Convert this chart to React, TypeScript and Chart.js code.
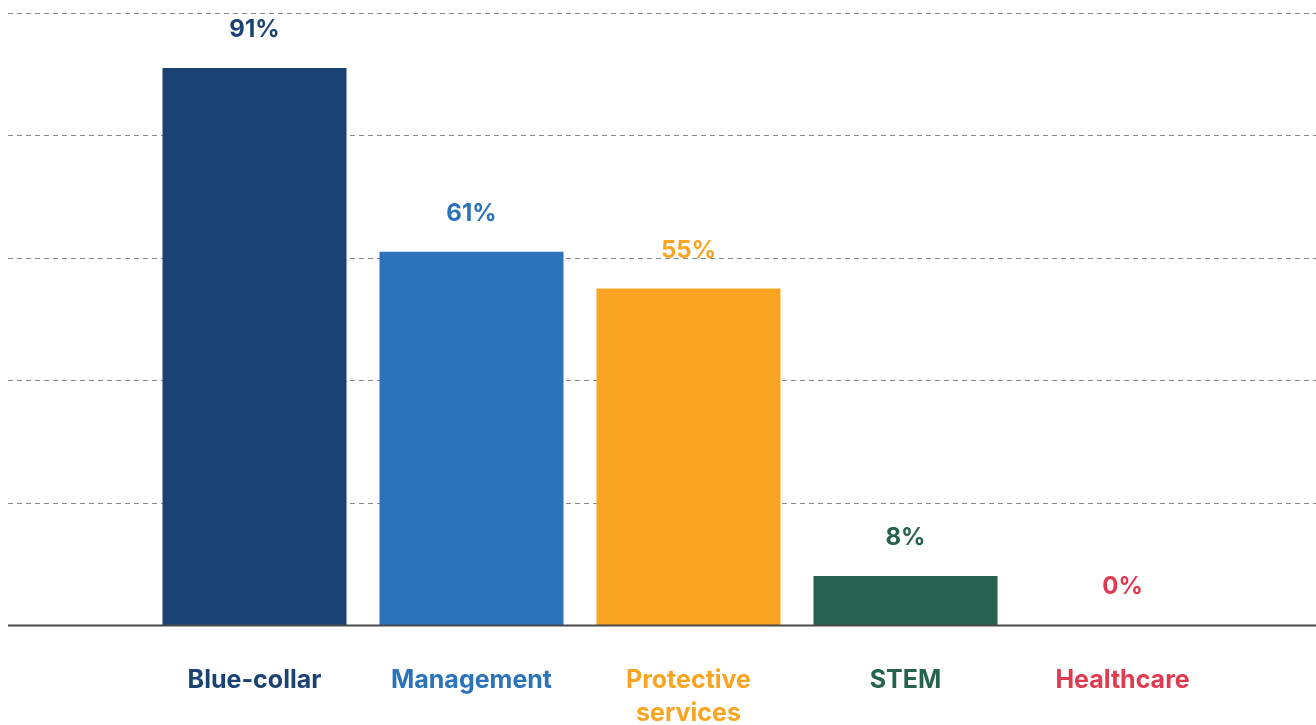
import React, { useEffect, useRef } from "react";
import { Chart, registerables } from "chart.js";

Chart.register(...registerables);

const categories: (string | string[])[] = [
  "Blue-collar",
  "Management",
  ["Protective", "services"],
  "STEM",
  "Healthcare",
];
const values: number[] = [91, 61, 55, 8, 0];
const colors: string[] = ["#1a4273", "#2b73bb", "#f9a521", "#276150", "#e03a4f"];
const yTicks: number[] = [0, 20, 40, 60, 80, 100];

const FONT = "Inter, 'Noto Sans', sans-serif";

const overlayPlugin = {
  id: "overlay",
  beforeDatasetsDraw(chart: any) {
    const { ctx, scales } = chart;
    const w = chart.canvas.width;
    const y = scales.y;
    ctx.save();
    ctx.strokeStyle = "#8a8a8a";
    ctx.lineWidth = 1;
    ctx.setLineDash([5, 4]);
    yTicks.forEach((t) => {
      if (t === 0) return;
      const py = Math.round(y.getPixelForValue(t)) + 0.5;
      ctx.beginPath();
      ctx.moveTo(0, py);
      ctx.lineTo(w, py);
      ctx.stroke();
    });
    ctx.restore();
  },
  afterDatasetsDraw(chart: any) {
    const { ctx, scales } = chart;
    const w = chart.canvas.width;
    const y = scales.y;
    const x = scales.x;
    ctx.save();
    const by = y.getPixelForValue(0);
    ctx.strokeStyle = "#4a4a4a";
    ctx.lineWidth = 2;
    ctx.beginPath();
    ctx.moveTo(0, by + 0.5);
    ctx.lineTo(w, by + 0.5);
    ctx.stroke();

    ctx.font = `700 24px ${FONT}`;
    ctx.textAlign = "center";
    ctx.textBaseline = "middle";
    values.forEach((v, i) => {
      const px = x.getPixelForValue(i);
      const py = y.getPixelForValue(v) - 38;
      ctx.fillStyle = colors[i];
      ctx.fillText(`${v}%`, px, py);
    });
    ctx.restore();
  },
};

export default function App() {
  const ref = useRef<HTMLCanvasElement | null>(null);
  useEffect(() => {
    document.documentElement.style.overflow = "hidden";
    if (!ref.current) return;
    const chart = new Chart(ref.current, {
      type: "bar",
      data: {
        labels: categories,
        datasets: [
          {
            data: values,
            backgroundColor: colors,
            borderWidth: 0,
            barPercentage: 0.848,
            categoryPercentage: 1,
          },
        ],
      },
      options: {
        animation: false,
        responsive: true,
        maintainAspectRatio: false,
        layout: { padding: { left: 138, right: 85, top: 5, bottom: 0 } },
        plugins: {
          legend: { display: false },
          tooltip: { enabled: false },
        },
        scales: {
          x: {
            grid: { display: false, drawTicks: false },
            border: { display: false },
            ticks: {
              color: colors,
              padding: 38.5,
              maxRotation: 0,
              autoSkip: false,
              font: { family: FONT, size: 25, weight: "bold", lineHeight: "33px" } as any,
            },
            afterFit(scale: any) {
              scale.height = 100;
            },
          },
          y: {
            display: false,
            min: 0,
            max: 100,
            ticks: { stepSize: 20 },
          },
        },
      },
      plugins: [overlayPlugin],
    });
    return () => chart.destroy();
  }, []);
  return (
    <div style={{ position: "absolute", left: 8, top: 8, width: 1308, height: 717 }}>
      <canvas ref={ref} />
    </div>
  );
}
